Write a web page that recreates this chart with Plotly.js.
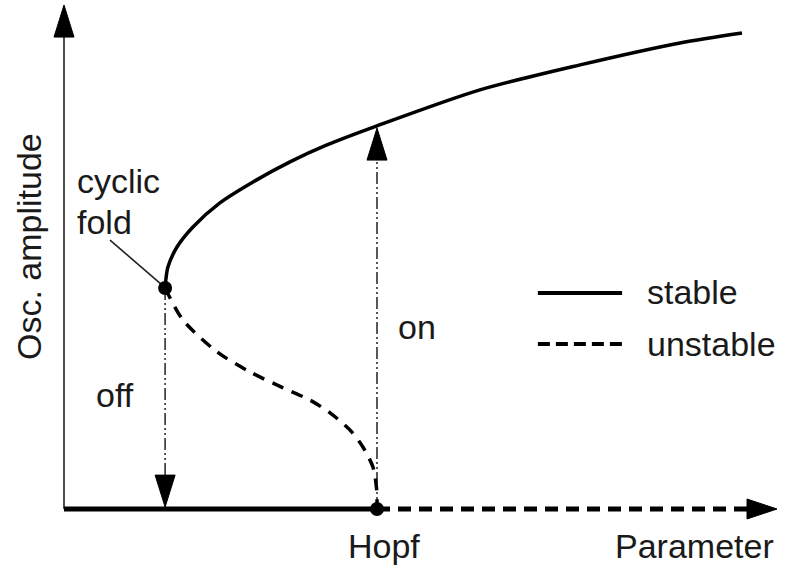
<!DOCTYPE html>
<html>
<head>
<meta charset="utf-8">
<script src="https://cdn.plot.ly/plotly-3.0.1.min.js"></script>
<style>
  html, body { margin: 0; padding: 0; background: #fff; }
  #chart { width: 786px; height: 569px; }
</style>
</head>
<body>
<div id="chart"></div>
<script>
// upper (stable) limit-cycle branch, parameter vs oscillation amplitude
const upperP = [0.323, 0.326, 0.332, 0.361, 0.412, 0.498, 0.604, 0.722, 0.840, 1.0, 1.329, 1.649, 1.968, 2.166];
const upperA = [0.706, 0.738, 0.773, 0.837, 0.901, 0.978, 1.045, 1.109, 1.163, 1.224, 1.339, 1.419, 1.489, 1.521];
// lower (unstable) branch from cyclic fold down to Hopf point
const unstP = [0.323, 0.380, 0.489, 0.594, 0.700, 0.786, 0.850, 0.914, 0.955, 0.987, 0.999, 1.0];
const unstA = [0.706, 0.604, 0.502, 0.438, 0.387, 0.348, 0.307, 0.252, 0.198, 0.134, 0.061, 0.0];
// fixed point branch
const restStableP = [0, 1.0];
const restUnstableP = [1.0, 2.185];
const restA = [0, 0];
// special points
const foldP = 0.323, foldA = 0.706;
const hopfP = 1.0, hopfA = 0;
// jump arrows: [x, from, to]
const onJump = [hopfP, 0, 1.217];
const offJump = [foldP, foldA, 0.006];
const axisTopY = 1.610;
const axisEndX = 2.278;

const px = 313; // pixels per data unit (same both axes)
const font = { family: 'Liberation Sans, Arial, sans-serif', size: 34, color: '#1a1a1a' };
const ink = '#000';

function head(tipX, tipY, dx, dy, lenPx, halfPx) {
    // dx,dy: unit direction of arrow
    const L = lenPx / px, W = halfPx / px;
    const bx = tipX - dx * L, by = tipY - dy * L;
    return {
        x: [tipX, bx - dy * W, bx + dy * W, tipX],
        y: [tipY, by + dx * W, by - dx * W, tipY],
        type: 'scatter', mode: 'lines', fill: 'toself',
        fillcolor: ink, line: { color: ink, width: 1 }, hoverinfo: 'skip'
    };
}

const jumpDash = '12px,3px,2px,3px,2px,3px';
const data = [
    // y axis
    { x: [0, 0], y: [0, axisTopY - 30 / px], mode: 'lines', line: { color: '#222', width: 1.6 } },
    head(0, axisTopY, 0, 1, 32, 10),
    // rest state
    { x: restStableP, y: restA, mode: 'lines', line: { color: ink, width: 5 } },
    { x: restUnstableP, y: restA, mode: 'lines', line: { color: ink, width: 5, dash: '13px,8px' } },
    head(axisEndX, 0, 1, 0, 30, 10),
    // jump arrows
    { x: [onJump[0], onJump[0]], y: [onJump[1], onJump[2] - 30 / px], mode: 'lines', line: { color: '#222', width: 1.5, dash: jumpDash } },
    head(onJump[0], onJump[2], 0, 1, 32, 10),
    { x: [offJump[0], offJump[0]], y: [offJump[1], offJump[2] + 30 / px], mode: 'lines', line: { color: '#222', width: 1.5, dash: jumpDash } },
    head(offJump[0], offJump[2], 0, -1, 32, 10),
    // branches
    { x: upperP, y: upperA, mode: 'lines', line: { color: ink, width: 3.5, shape: 'spline', smoothing: 0.8 } },
    { x: unstP, y: unstA, mode: 'lines', line: { color: ink, width: 3.5, dash: '12px,9px', shape: 'spline', smoothing: 0.8 } },
    // leader line to cyclic fold
    { x: [0.147, foldP - 0.012], y: [0.859, foldA + 0.012], mode: 'lines', line: { color: '#222', width: 1.6 } },
    // bifurcation points
    { x: [foldP, hopfP], y: [foldA, hopfA], mode: 'markers', marker: { color: ink, size: 14 } },
    // legend samples
    { x: [1.514, 1.783], y: [0.690, 0.690], mode: 'lines', line: { color: ink, width: 4 } },
    { x: [1.514, 1.783], y: [0.527, 0.527], mode: 'lines', line: { color: ink, width: 4, dash: '12px,6px' } }
];

function txt(text, x, y, xanchor) {
    return { text: text, x: x, y: y, xref: 'x', yref: 'y', showarrow: false,
             xanchor: xanchor || 'left', yanchor: 'middle', font: font };
}
const toX = v => (v - 64) / px;
const toY = v => (509 - v) / px;

const layout = {
    width: 786,
    height: 569,
    margin: { l: 0, r: 0, t: 0, b: 0 },
    showlegend: false,
    paper_bgcolor: '#fff',
    plot_bgcolor: '#fff',
    xaxis: { range: [toX(0), toX(786)], visible: false, fixedrange: true },
    yaxis: { range: [toY(569), toY(0)], visible: false, fixedrange: true },
    annotations: [
        txt('cyclic', toX(75), toY(181)),
        txt('fold', toX(75), toY(222)),
        txt('off', toX(94), toY(395)),
        txt('on', toX(396), toY(327)),
        txt('Hopf', toX(384), toY(546), 'center'),
        txt('Parameter', toX(776), toY(546), 'right'),
        txt('stable', toX(645), toY(292)),
        txt('unstable', toX(645), toY(344)),
        { text: 'Osc. amplitude', x: toX(29), y: toY(247), xref: 'x', yref: 'y', showarrow: false,
          textangle: -90, xanchor: 'center', yanchor: 'middle', font: font }
    ]
};

Plotly.newPlot('chart', data, layout, { staticPlot: true });
</script>
</body>
</html>
